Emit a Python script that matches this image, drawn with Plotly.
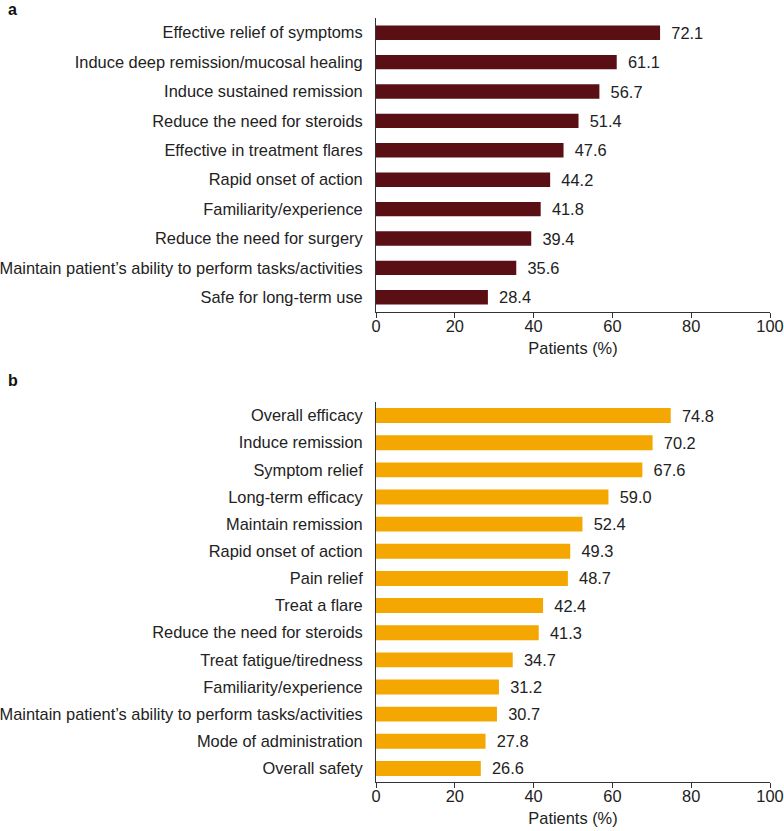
import plotly.graph_objects as go

cats_a = ["Effective relief of symptoms", "Induce deep remission/mucosal healing",
          "Induce sustained remission", "Reduce the need for steroids",
          "Effective in treatment flares", "Rapid onset of action",
          "Familiarity/experience", "Reduce the need for surgery",
          "Maintain patient\u2019s ability to perform tasks/activities",
          "Safe for long-term use"]
vals_a = [72.1, 61.1, 56.7, 51.4, 47.6, 44.2, 41.8, 39.4, 35.6, 28.4]

cats_b = ["Overall efficacy", "Induce remission", "Symptom relief", "Long-term efficacy",
          "Maintain remission", "Rapid onset of action", "Pain relief", "Treat a flare",
          "Reduce the need for steroids", "Treat fatigue/tiredness", "Familiarity/experience",
          "Maintain patient\u2019s ability to perform tasks/activities",
          "Mode of administration", "Overall safety"]
vals_b = [74.8, 70.2, 67.6, 59.0, 52.4, 49.3, 48.7, 42.4, 41.3, 34.7, 31.2, 30.7, 27.8, 26.6]

x_ticks = [0, 20, 40, 60, 80, 100]

FONT = "Liberation Sans, Arial, sans-serif"
FS = 16.4
W, H = 784, 831
x0, x1 = 376 / W, 770 / W

fig = go.Figure()
fig.add_trace(go.Bar(y=cats_a, x=vals_a, orientation="h", xaxis="x", yaxis="y",
                     marker=dict(color="#5A0F15", line=dict(width=0)), width=0.49,
                     text=[f"\u2002{v:.1f}" for v in vals_a], textposition="outside",
                     constraintext="none",
                     textfont=dict(size=FS, color="#222222", family=FONT),
                     cliponaxis=False, showlegend=False))
fig.add_trace(go.Bar(y=cats_b, x=vals_b, orientation="h", xaxis="x2", yaxis="y2",
                     marker=dict(color="#F3A700", line=dict(width=0)), width=0.55,
                     text=[f"\u2002{v:.1f}" for v in vals_b], textposition="outside",
                     constraintext="none",
                     textfont=dict(size=FS, color="#222222", family=FONT),
                     cliponaxis=False, showlegend=False))

xcommon = dict(range=[0, 100], tickvals=x_ticks, ticktext=[str(t) for t in x_ticks],
               showline=True, linecolor="#333333", linewidth=1, ticks="outside",
               ticklen=5, tickcolor="#333333", showgrid=False, zeroline=False,
               automargin=False, ticklabelstandoff=-6,
               tickfont=dict(size=FS, color="#222222", family=FONT),
               title=dict(text="Patients (%)", font=dict(size=FS, color="#222222", family=FONT),
                          standoff=8))
ycommon = dict(showline=True, linecolor="#333333", linewidth=1, ticks="", showgrid=False,
               autorange="reversed", automargin=False,
               tickfont=dict(size=FS, color="#222222", family=FONT),
               ticklabelstandoff=9)

fig.update_layout(
    width=W, height=H, margin=dict(l=0, r=0, t=0, b=0),
    paper_bgcolor="white", plot_bgcolor="white",
    font=dict(family=FONT, size=FS, color="#222222"),
    xaxis=dict(domain=[x0, x1], anchor="y", **xcommon),
    yaxis=dict(domain=[1 - 312 / H, 1 - 18 / H], anchor="x", **ycommon),
    xaxis2=dict(domain=[x0, x1], anchor="y2", **xcommon),
    yaxis2=dict(domain=[1 - 782 / H, 1 - 402 / H], anchor="x2", **ycommon),
    annotations=[
        dict(text="<b>a</b>", x=6 / W, y=1 - 9 / H, xref="paper", yref="paper",
             xanchor="left", yanchor="middle", showarrow=False,
             font=dict(size=16, color="#111111", family=FONT)),
        dict(text="<b>b</b>", x=6 / W, y=1 - 380 / H, xref="paper", yref="paper",
             xanchor="left", yanchor="middle", showarrow=False,
             font=dict(size=16, color="#111111", family=FONT)),
    ],
)

fig.write_html("out.html", config={"displayModeBar": False},
               post_script="document.body.style.margin='0';document.body.style.overflow='hidden';")
